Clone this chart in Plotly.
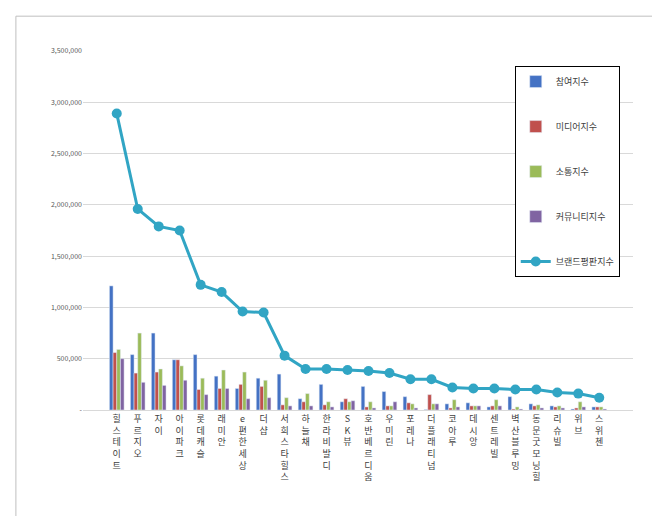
import plotly.graph_objects as go

brands = ["힐스테이트", "푸르지오", "자이", "아이파크", "롯데캐슬", "래미안", "e편한세상", "더샵",
          "서희스타힐스", "하늘채", "한라비발디", "SK뷰", "호반베르디움", "우미린", "포레나", "더 플래티넘",
          "코아루", "데시앙", "센트레빌", "벽산블루밍", "동문굿모닝힐", "리슈빌", "위브", "스위첸"]
participation = [1210000, 540000, 750000, 490000, 540000, 330000, 210000, 310000, 350000, 110000, 250000, 80000,
                 230000, 180000, 130000, 5000, 60000, 70000, 30000, 130000, 60000, 40000, 10000, 30000]
media = [560000, 360000, 370000, 490000, 200000, 210000, 250000, 230000, 50000, 80000, 50000, 110000,
         30000, 40000, 70000, 150000, 20000, 40000, 40000, 10000, 40000, 30000, 20000, 30000]
communication = [590000, 750000, 400000, 430000, 310000, 390000, 370000, 290000, 120000, 160000, 80000, 80000,
                 80000, 40000, 60000, 60000, 100000, 40000, 100000, 30000, 50000, 40000, 80000, 30000]
community = [500000, 270000, 240000, 290000, 150000, 210000, 110000, 120000, 40000, 40000, 30000, 90000,
             20000, 80000, 20000, 60000, 30000, 40000, 40000, 10000, 20000, 20000, 30000, 10000]
brand_index = [2890000, 1960000, 1790000, 1750000, 1220000, 1150000, 960000, 950000, 530000, 400000, 400000, 390000,
               380000, 360000, 300000, 300000, 220000, 210000, 210000, 200000, 200000, 170000, 160000, 120000]

tick_vals = [0, 500000, 1000000, 1500000, 2000000, 2500000, 3000000, 3500000]
tick_text = ["-"] + [f"{v:,}" for v in tick_vals[1:]]

# vertical labels: one character per line
labels = ["<br>".join(ch for ch in b if ch != " ") for b in brands]

fig = go.Figure()
bar_series = [("참여지수", participation, "#4472C4"), ("미디어지수", media, "#C0504D"),
              ("소통지수", communication, "#9BBB59"), ("커뮤니티지수", community, "#8064A2")]
for i, (name, vals, color) in enumerate(bar_series):
    fig.add_trace(go.Bar(x=labels, y=vals, name=name, marker_color=color, legendgroup=str(i)))
fig.add_trace(go.Scatter(x=labels, y=brand_index, name="브랜드평판지수", mode="lines+markers", legendgroup="4",
                         line=dict(color="#31A5C4", width=3), marker=dict(size=10, color="#31A5C4")))

fig.update_layout(
    width=660, height=516,
    plot_bgcolor="white", paper_bgcolor="white",
    font=dict(family="Noto Sans CJK KR", size=10, color="#404040"),
    margin=dict(l=75, r=35, t=43, b=114),
    barmode="group", bargap=0.3, bargroupgap=0,
    legend=dict(x=0.785, y=0.958, xanchor="left", yanchor="top", bordercolor="black", borderwidth=1,
                tracegroupgap=26, font=dict(size=9), bgcolor="white", traceorder="grouped"),
    shapes=[dict(type="rect", xref="paper", yref="paper", x0=-0.122, x1=1.045, y0=-0.30, y1=1.097,
                 line=dict(color="#BFBFBF", width=1))],
)
fig.update_yaxes(range=[0, 3500000], tickvals=tick_vals, ticktext=tick_text, gridcolor="#D9D9D9",
                 tickfont=dict(size=7, color="#595959"), zeroline=False, automargin=False)
fig.update_xaxes(tickangle=0, tickfont=dict(size=9), showline=True, linecolor="#D9D9D9", automargin=False)

fig.write_html("out.html")
